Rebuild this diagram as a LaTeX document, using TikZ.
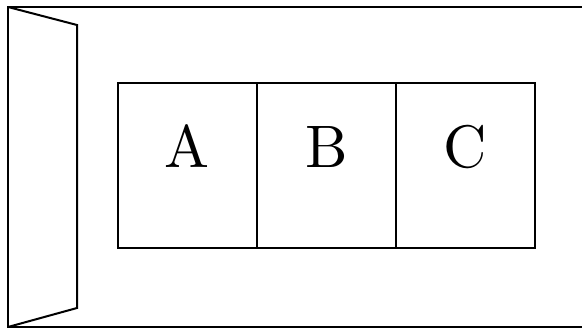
\documentclass[tikz,border=0pt]{standalone}
\begin{document}
\begin{tikzpicture}[x=1pt,y=-1pt,line width=2pt,
  cell/.style={draw,minimum width=139.2pt,minimum height=164.2pt,inner sep=0pt,outer sep=0pt},
  letter/.style={anchor=base,inner sep=0pt,scale=6,font=\normalsize}]
\useasboundingbox (0,0) rectangle (582,329);
\clip (0,0) rectangle (582,329);
% outer frame (extends past the right edge)
\coordinate (tl) at (8,7);
\coordinate (tr) at (600,7);
\coordinate (br) at (600,327);
\coordinate (bl) at (8,327);
\draw (tr) -- (tl) -- (bl) -- (br);
% door panel
\coordinate (pt) at (77,25);
\coordinate (pb) at (77,308);
\draw (tl) -- (pt) -- (pb) -- (bl);
% cells
\node[cell] (A) at (187.1,165.6) {};
\node[cell] (B) at (326.3,165.6) {};
\node[cell] (C) at (465.5,165.6) {};
\node[letter] (la) at ([yshift=-2.1pt]A.center) {A};
\node[letter] (lb) at ([yshift=-2.1pt]B.center) {B};
\node[letter] (lc) at ([yshift=-2.1pt]C.center) {C};
\end{tikzpicture}
\end{document}
